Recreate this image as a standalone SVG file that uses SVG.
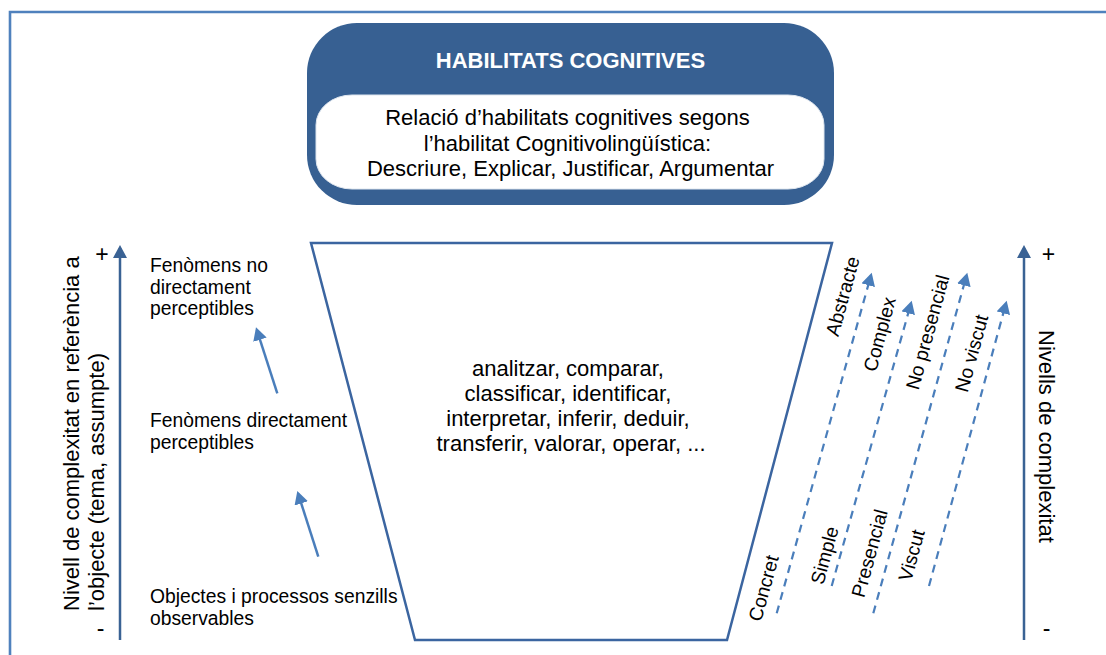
<svg xmlns="http://www.w3.org/2000/svg" width="1106" height="655" viewBox="0 0 1106 655">
  <style>
    text { font-family: "Liberation Sans", Arial, sans-serif; fill: #000; }
    .t19 { font-size: 19.3px; }
    .t22 { font-size: 22px; }
    .sign { font-size: 23px; }
    .title { font-size: 22px; font-weight: bold; fill: #fff; }
    .frame { fill: none; stroke: #4F81BD; stroke-width: 2.6; }
    .axis { fill: none; stroke: #3A6294; stroke-width: 2.5; }
    .step { fill: none; stroke: #4A7EBB; stroke-width: 2.5; }
    .dash { fill: none; stroke: #4A7EBB; stroke-width: 2.2; stroke-dasharray: 8 6; }
  </style>
  <defs>
    <marker id="headDark" markerUnits="userSpaceOnUse" markerWidth="14" markerHeight="14" refX="10" refY="7" orient="auto">
      <path d="M0,0 L13,7 L0,14 z" fill="#3A6294"/>
    </marker>
    <marker id="headLight" markerUnits="userSpaceOnUse" markerWidth="14" markerHeight="14" refX="10" refY="7" orient="auto">
      <path d="M0,0 L13,7 L0,14 z" fill="#4A7EBB"/>
    </marker>
  </defs>

  <rect width="1106" height="655" fill="#fff"/>

  <!-- page frame -->
  <path class="frame" d="M10,655 L10,12 L1106,12"/>

  <!-- title block -->
  <g id="title">
    <rect x="307" y="23" width="527" height="182" rx="50" ry="50" fill="#376092"/>
    <text class="title" x="570.5" y="68" text-anchor="middle">HABILITATS COGNITIVES</text>
    <rect x="316" y="95" width="508" height="94" rx="36" ry="30" fill="#fff" stroke="#dfe6ef" stroke-width="1"/>
    <text class="t22" text-anchor="middle">
      <tspan x="570.5" y="125">Relació d’habilitats cognitives segons</tspan>
      <tspan x="570.5" y="150.5">l’habilitat Cognitivolingüística:</tspan>
      <tspan x="570.5" y="176">Descriure, Explicar, Justificar, Argumentar</tspan>
    </text>
  </g>

  <!-- funnel of cognitive skills -->
  <g id="funnel">
    <polygon points="311,243 832,243 727,640 415,640" fill="#fff" stroke="#3B65A0" stroke-width="2.5" stroke-linejoin="miter"/>
    <text class="t22" text-anchor="middle">
      <tspan x="571" y="375.5">analitzar, comparar,</tspan>
      <tspan x="571" y="400.5">classificar, identificar,</tspan>
      <tspan x="571" y="425.5">interpretar, inferir, deduir,</tspan>
      <tspan x="571" y="450.5">transferir, valorar, operar, ...</tspan>
    </text>
  </g>

  <!-- left scale: object complexity -->
  <g id="left-scale">
    <text class="t22" transform="translate(79,611) rotate(-90)">Nivell de complexitat en referència a</text>
    <text class="t22" transform="translate(104,611) rotate(-90)">l’objecte (tema, assumpte)</text>
    <text class="sign" x="102" y="262" text-anchor="middle">+</text>
    <text class="sign" x="100.5" y="636" text-anchor="middle">-</text>
  </g>

  <g id="level-3">
    <text class="t19"><tspan x="150" y="272">Fenòmens no</tspan><tspan x="150" y="293.5">directament</tspan><tspan x="150" y="315">perceptibles</tspan></text>
  </g>
  <g id="level-2">
    <text class="t19"><tspan x="150" y="427">Fenòmens directament</tspan><tspan x="150" y="448.5">perceptibles</tspan></text>
  </g>
  <g id="level-1">
    <text class="t19"><tspan x="150" y="603">Objectes i processos senzills</tspan><tspan x="150" y="624.5">observables</tspan></text>
  </g>

  <!-- right scale: levels of complexity -->
  <g id="right-scale">
    <text class="t22" transform="translate(1039,330) rotate(90)">Nivells de complexitat</text>
    <text class="sign" x="1048.5" y="262" text-anchor="middle">+</text>
    <text class="sign" x="1046.5" y="636" text-anchor="middle">-</text>
  </g>

  <!-- pair labels along the dashed arrows -->
  <g id="pair-concret-abstracte">
    <text class="t19" text-anchor="middle" transform="translate(770,590) rotate(-74.7)">Concret</text>
    <text class="t19" text-anchor="middle" transform="translate(849,298) rotate(-74.7)">Abstracte</text>
  </g>
  <g id="pair-simple-complex">
    <text class="t19" text-anchor="middle" transform="translate(831,557) rotate(-74.7)">Simple</text>
    <text class="t19" text-anchor="middle" transform="translate(886,336) rotate(-74.7)">Complex</text>
  </g>
  <g id="pair-presencial">
    <text class="t19" text-anchor="middle" transform="translate(876,555) rotate(-74.7)">Presencial</text>
    <text class="t19" text-anchor="middle" transform="translate(934,334) rotate(-74.7)">No presencial</text>
  </g>
  <g id="pair-viscut">
    <text class="t19" text-anchor="middle" transform="translate(918,557) rotate(-74.7)">Viscut</text>
    <text class="t19" text-anchor="middle" transform="translate(978,355) rotate(-74.7)">No viscut</text>
  </g>

  <!-- connectors -->
  <g id="connectors">
    <line class="axis" x1="120" y1="640" x2="120" y2="248" marker-end="url(#headDark)"/>
    <line class="axis" x1="1024" y1="640" x2="1024" y2="248" marker-end="url(#headDark)"/>
    <line class="step" x1="318.3" y1="556.7" x2="298.2" y2="493.9" marker-end="url(#headLight)"/>
    <line class="step" x1="277.3" y1="393.3" x2="256.9" y2="330.2" marker-end="url(#headLight)"/>
    <line class="dash" x1="776.7" y1="613.3" x2="870.9" y2="275.6" marker-end="url(#headLight)"/>
    <line class="dash" x1="831.7" y1="586" x2="910.9" y2="303.6" marker-end="url(#headLight)"/>
    <line class="dash" x1="873.3" y1="613.3" x2="966.5" y2="275.6" marker-end="url(#headLight)"/>
    <line class="dash" x1="929" y1="586" x2="1005.9" y2="303.6" marker-end="url(#headLight)"/>
  </g>
</svg>
